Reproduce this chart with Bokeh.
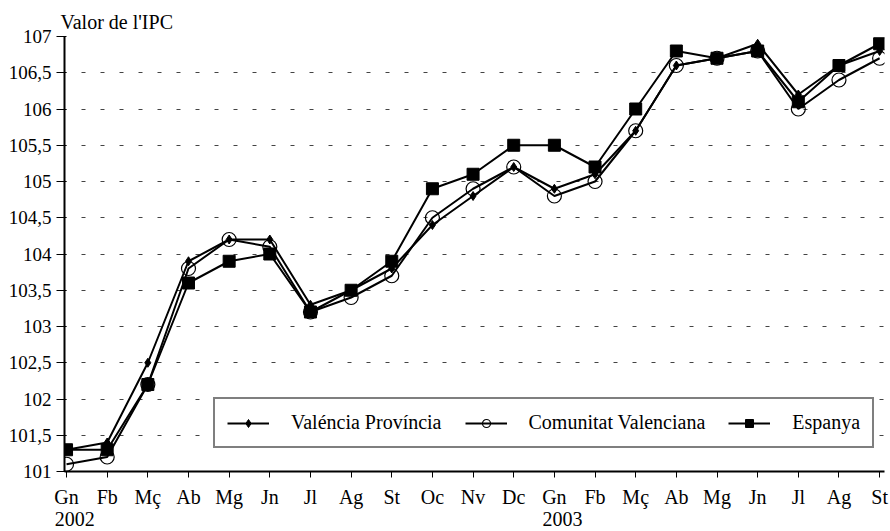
from bokeh.plotting import figure
from bokeh.models import (Range1d, FixedTicker, CustomJSTickFormatter, Legend,
                          LegendItem, LinearAxis)
from bokeh.embed import file_html
from bokeh.resources import INLINE

# ---- data ----
months = ["Gn", "Fb", "Mç", "Ab", "Mg", "Jn", "Jl", "Ag", "St", "Oc", "Nv", "Dc",
          "Gn", "Fb", "Mç", "Ab", "Mg", "Jn", "Jl", "Ag", "St"]
years = ["2002", "2003"]
year_start_idx = [0, 12]
valencia_prov = [101.3, 101.4, 102.5, 103.9, 104.2, 104.2, 103.3, 103.5, 103.8, 104.4, 104.8,
                 105.2, 104.9, 105.1, 105.7, 106.6, 106.7, 106.9, 106.2, 106.6, 106.8]
com_val = [101.1, 101.2, 102.2, 103.8, 104.2, 104.1, 103.2, 103.4, 103.7, 104.5, 104.9,
           105.2, 104.8, 105.0, 105.7, 106.6, 106.7, 106.8, 106.0, 106.4, 106.7]
espanya = [101.3, 101.3, 102.2, 103.6, 103.9, 104.0, 103.2, 103.5, 103.9, 104.9, 105.1,
           105.5, 105.5, 105.2, 106.0, 106.8, 106.7, 106.8, 106.1, 106.6, 106.9]
y_ticks = [101, 101.5, 102, 102.5, 103, 103.5, 104, 104.5, 105, 105.5, 106, 106.5, 107]
series_names = ["Valéncia Província", "Comunitat Valenciana", "Espanya"]
y_title = "Valor de l'IPC"

FONT = "Liberation Serif"
x = list(range(len(months)))
n = len(months) - 1
x_start, x_end = -0.05, n + 0.12

p = figure(width=890, height=531, output_backend="svg", toolbar_location=None,
           x_range=Range1d(x_start, x_end), y_range=Range1d(y_ticks[0], y_ticks[-1]),
           min_border_left=64, min_border_right=6, min_border_top=36, min_border_bottom=60)
p.outline_line_color = None
p.background_fill_color = "white"

# title above the y axis
p.title.text = y_title
p.title.text_font = FONT
p.title.text_font_size = "20px"
p.title.text_font_style = "normal"
p.title.text_color = "black"
p.title.align = "left"
p.title.offset = -4
p.title.standoff = 8

# axes
xa = p.xaxis[0]
xa.ticker = FixedTicker(ticks=x)
xa.major_label_overrides = {i: m for i, m in enumerate(months)}
xa.major_label_text_font = FONT
xa.major_label_text_font_size = "20px"
xa.major_label_text_color = "black"
xa.major_label_standoff = 8
xa.axis_line_width = 2
xa.axis_line_color = "black"
xa.major_tick_in = 0
xa.major_tick_out = 6
xa.major_tick_line_color = "black"
xa.minor_tick_line_color = None

# second row of x labels: the years
shift = 0.2
p.extra_x_ranges = {"yr": Range1d(x_start - shift, x_end - shift)}
yax = LinearAxis(x_range_name="yr", ticker=FixedTicker(ticks=year_start_idx),
                 major_label_overrides={i: y for i, y in zip(year_start_idx, years)})
yax.axis_line_color = None
yax.major_tick_line_color = None
yax.minor_tick_line_color = None
yax.major_tick_in = 0
yax.major_tick_out = 0
yax.major_label_standoff = 1
yax.major_label_text_font = FONT
yax.major_label_text_font_size = "20px"
yax.major_label_text_color = "black"
p.add_layout(yax, "below")

ya = p.yaxis[0]
ya.ticker = FixedTicker(ticks=y_ticks)
ya.formatter = CustomJSTickFormatter(code="return tick.toString().replace('.', ',');")
ya.major_label_text_font = FONT
ya.major_label_text_font_size = "19px"
ya.major_label_text_color = "black"
ya.major_label_standoff = 5
ya.axis_line_width = 2
ya.axis_line_color = "black"
ya.major_tick_in = 2
ya.major_tick_out = 8
ya.major_tick_line_color = "black"
ya.minor_tick_line_color = None

p.xgrid.grid_line_color = None
p.ygrid.ticker = FixedTicker(ticks=y_ticks[1:])
p.ygrid.grid_line_color = "#444444"
p.ygrid.grid_line_dash = "4 15"
p.ygrid.grid_line_width = 1
p.ygrid.grid_line_dash_offset = 2

# series
l1 = p.line(x, valencia_prov, line_color="black", line_width=2)
m1 = p.scatter(x, valencia_prov, marker="diamond", size=9, fill_color="black", line_color="black")
l2 = p.line(x, com_val, line_color="black", line_width=2)
m2 = p.scatter(x, com_val, marker="circle", size=14, fill_color=None, line_color="black", line_width=1.2)
l3 = p.line(x, espanya, line_color="black", line_width=2)
m3 = p.scatter(x, espanya, marker="square", size=12, fill_color="black", line_color="black")

legend = Legend(items=[LegendItem(label=series_names[0], renderers=[l1, m1]),
                       LegendItem(label=series_names[1], renderers=[l2, m2]),
                       LegendItem(label=series_names[2], renderers=[l3, m3])],
                orientation="horizontal", location=(149, 23))
legend.label_text_font = FONT
legend.label_text_font_size = "20px"
legend.label_text_color = "black"
legend.label_height = 20
legend.glyph_height = 20
legend.glyph_width = 42
legend.label_standoff = 22
legend.spacing = 23
legend.padding = 12
legend.margin = 0
legend.border_line_color = "black"
legend.border_line_width = 2
legend.background_fill_color = "white"
legend.background_fill_alpha = 1
p.add_layout(legend, "center")

open("out.html", "w").write(file_html(p, INLINE))
